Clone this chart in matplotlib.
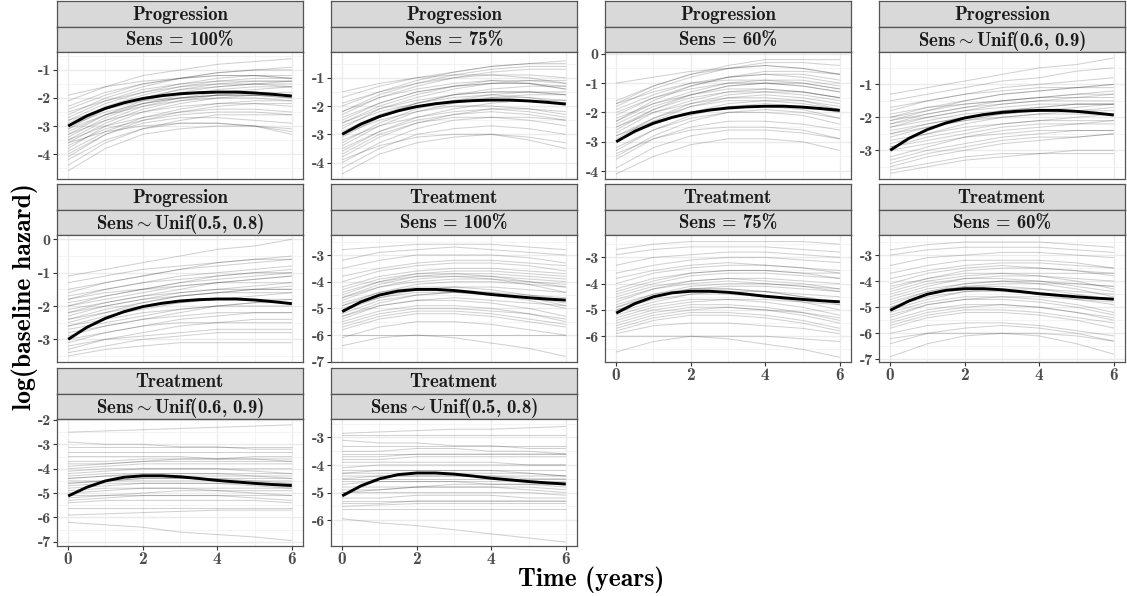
import matplotlib
matplotlib.use("Agg")
import matplotlib.pyplot as plt
from matplotlib.ticker import MultipleLocator, FuncFormatter, FixedLocator

plt.rcParams['axes.unicode_minus'] = False
plt.rcParams['mathtext.fontset'] = 'cm'
FONT = 'cmb10'

# ---------------- data ----------------
t_grid = [0, 1, 2, 3, 4, 5, 6]
t_true = [0, 0.5, 1, 1.5, 2, 2.5, 3, 3.5, 4, 4.5, 5, 5.5, 6]
prog_true = [-3.0, -2.64, -2.37, -2.17, -2.02, -1.92, -1.85, -1.81, -1.79, -1.79, -1.82, -1.87, -1.93]
treat_true = [-5.12, -4.76, -4.5, -4.35, -4.29, -4.29, -4.33, -4.4, -4.48, -4.54, -4.6, -4.65, -4.69]

outcomes = ["Progression"] * 5 + ["Treatment"] * 5
sens_labels = ["Sens = 100%", "Sens = 75%", "Sens = 60%",
               r"Sens$\sim$Unif(0.6, 0.9)", r"Sens$\sim$Unif(0.5, 0.8)"] * 2

prog_100 = [
    [-4.6, -3.8, -3.3, -3.1, -3.0, -3.0, -3.1], [-4.4, -3.6, -3.1, -2.8, -2.6, -2.6, -2.6],
    [-4.2, -3.5, -3.1, -2.9, -2.9, -3.0, -3.2], [-4.1, -3.3, -2.8, -2.5, -2.3, -2.2, -2.2],
    [-3.9, -3.2, -2.7, -2.4, -2.2, -2.1, -2.1], [-3.8, -3.0, -2.5, -2.2, -2.0, -1.9, -1.9],
    [-3.7, -3.1, -2.8, -2.6, -2.5, -2.5, -2.6], [-3.6, -2.9, -2.4, -2.1, -1.9, -1.8, -1.8],
    [-3.5, -2.8, -2.3, -2.0, -1.8, -1.7, -1.6], [-3.5, -3.0, -2.7, -2.5, -2.4, -2.4, -2.5],
    [-3.4, -2.7, -2.2, -1.9, -1.7, -1.6, -1.6], [-3.3, -2.6, -2.1, -1.8, -1.6, -1.5, -1.4],
    [-3.3, -2.8, -2.5, -2.3, -2.2, -2.2, -2.3], [-3.2, -2.6, -2.2, -2.0, -1.9, -1.9, -2.0],
    [-3.1, -2.4, -2.0, -1.7, -1.5, -1.4, -1.4], [-3.1, -2.6, -2.3, -2.1, -2.0, -2.0, -2.1],
    [-3.0, -2.4, -2.0, -1.7, -1.6, -1.5, -1.5], [-3.0, -2.5, -2.2, -2.0, -1.9, -1.9, -1.9],
    [-2.9, -2.3, -1.9, -1.6, -1.4, -1.3, -1.3], [-2.8, -2.2, -1.8, -1.5, -1.3, -1.2, -1.2],
    [-2.8, -2.4, -2.1, -2.0, -1.9, -1.9, -2.0], [-2.7, -2.1, -1.7, -1.5, -1.4, -1.4, -1.4],
    [-2.6, -2.0, -1.6, -1.3, -1.1, -1.0, -1.0], [-2.5, -2.1, -1.8, -1.6, -1.5, -1.5, -1.6],
    [-2.4, -1.9, -1.5, -1.3, -1.1, -1.0, -0.9], [-2.3, -1.8, -1.5, -1.3, -1.2, -1.2, -1.3],
    [-2.1, -1.6, -1.2, -1.0, -0.8, -0.7, -0.6], [-1.9, -1.6, -1.4, -1.3, -1.2, -1.2, -1.3],
    [-3.6, -3.2, -3.0, -2.9, -2.9, -3.0, -3.3], [-4.0, -3.3, -2.9, -2.7, -2.7, -2.8, -2.9],
]
prog_75 = [
    [-4.4, -3.7, -3.3, -3.1, -3.0, -3.1, -3.3], [-4.2, -3.5, -3.0, -2.8, -2.7, -2.8, -3.0],
    [-4.0, -3.3, -2.8, -2.5, -2.4, -2.4, -2.5], [-3.9, -3.4, -3.1, -3.0, -3.0, -3.2, -3.5],
    [-3.8, -3.1, -2.6, -2.3, -2.1, -2.1, -2.2], [-3.6, -2.9, -2.4, -2.1, -1.9, -1.8, -1.8],
    [-3.5, -2.9, -2.5, -2.3, -2.2, -2.3, -2.5], [-3.4, -2.7, -2.2, -1.9, -1.7, -1.6, -1.6],
    [-3.3, -2.6, -2.1, -1.8, -1.6, -1.5, -1.5], [-3.2, -2.7, -2.4, -2.2, -2.1, -2.2, -2.4],
    [-3.1, -2.4, -1.9, -1.6, -1.4, -1.3, -1.3], [-3.0, -2.4, -2.0, -1.8, -1.7, -1.7, -1.8],
    [-2.9, -2.3, -1.9, -1.6, -1.5, -1.5, -1.6], [-2.8, -2.1, -1.7, -1.4, -1.2, -1.1, -1.1],
    [-2.7, -2.2, -1.9, -1.7, -1.6, -1.7, -1.9], [-2.6, -2.0, -1.6, -1.3, -1.2, -1.2, -1.3],
    [-2.5, -1.9, -1.5, -1.3, -1.1, -1.1, -1.2], [-2.4, -1.9, -1.5, -1.3, -1.2, -1.2, -1.4],
    [-2.3, -1.7, -1.3, -1.0, -0.8, -0.7, -0.7], [-2.2, -1.7, -1.4, -1.2, -1.1, -1.2, -1.4],
    [-2.0, -1.5, -1.1, -0.8, -0.6, -0.5, -0.5], [-1.9, -1.5, -1.2, -1.0, -0.9, -0.9, -1.0],
    [-1.7, -1.3, -1.0, -0.8, -0.6, -0.5, -0.4], [-1.5, -1.2, -1.0, -0.9, -0.9, -1.0, -1.2],
    [-3.7, -3.0, -2.6, -2.4, -2.4, -2.5, -2.7], [-3.0, -2.5, -2.2, -2.0, -2.0, -2.1, -2.3],
    [-2.6, -2.1, -1.8, -1.6, -1.5, -1.5, -1.6], [-2.2, -1.6, -1.2, -0.9, -0.7, -0.6, -0.6],
]
prog_60 = [
    [-4.1, -3.5, -3.1, -2.9, -2.9, -3.0, -3.3], [-3.9, -3.2, -2.8, -2.6, -2.6, -2.7, -2.9],
    [-3.6, -2.9, -2.5, -2.3, -2.3, -2.4, -2.6], [-3.5, -2.8, -2.3, -2.0, -1.9, -2.0, -2.2],
    [-3.3, -2.6, -2.1, -1.8, -1.7, -1.8, -2.0], [-3.2, -2.6, -2.2, -2.0, -2.0, -2.1, -2.4],
    [-3.0, -2.3, -1.8, -1.5, -1.4, -1.5, -1.7], [-2.9, -2.2, -1.7, -1.4, -1.3, -1.3, -1.5],
    [-2.8, -2.2, -1.8, -1.6, -1.6, -1.7, -1.9], [-2.7, -2.0, -1.6, -1.3, -1.2, -1.3, -1.5],
    [-2.6, -1.9, -1.4, -1.1, -1.0, -1.0, -1.2], [-2.5, -1.9, -1.5, -1.3, -1.3, -1.4, -1.6],
    [-2.4, -1.8, -1.4, -1.1, -1.0, -1.1, -1.3], [-2.3, -1.7, -1.3, -1.0, -0.9, -0.9, -1.1],
    [-2.2, -1.7, -1.4, -1.2, -1.2, -1.3, -1.5], [-2.1, -1.5, -1.1, -0.8, -0.7, -0.7, -0.9],
    [-2.0, -1.5, -1.2, -1.0, -1.0, -1.1, -1.3], [-1.9, -1.4, -1.0, -0.8, -0.7, -0.8, -1.0],
    [-1.8, -1.2, -0.8, -0.5, -0.3, -0.3, -0.4], [-1.7, -1.3, -1.0, -0.9, -0.9, -1.0, -1.2],
    [-1.6, -1.1, -0.7, -0.5, -0.4, -0.5, -0.7], [-1.0, -0.8, -0.6, -0.5, -0.4, -0.5, -0.7],
    [-3.4, -2.9, -2.6, -2.5, -2.5, -2.6, -2.9], [-2.8, -2.3, -2.0, -1.8, -1.8, -1.9, -2.2],
    [-2.3, -1.6, -1.1, -0.8, -0.6, -0.6, -0.7], [-1.7, -1.1, -0.7, -0.4, -0.2, -0.2, -0.2],
    [-3.0, -2.4, -2.0, -1.7, -1.6, -1.6, -1.8], [-2.5, -2.0, -1.7, -1.5, -1.5, -1.6, -1.9],
]
prog_u69 = [
    [-3.7, -3.5, -3.3, -3.2, -3.1, -3.0, -3.0], [-3.6, -3.4, -3.2, -3.1, -3.1, -3.1, -3.1],
    [-3.5, -3.2, -3.0, -2.8, -2.7, -2.6, -2.5], [-3.3, -3.0, -2.8, -2.6, -2.5, -2.4, -2.4],
    [-3.2, -2.9, -2.6, -2.4, -2.3, -2.2, -2.1], [-3.0, -2.8, -2.6, -2.5, -2.4, -2.4, -2.4],
    [-2.9, -2.6, -2.4, -2.2, -2.1, -2.0, -1.9], [-2.8, -2.5, -2.2, -2.0, -1.9, -1.8, -1.7],
    [-2.7, -2.5, -2.3, -2.2, -2.1, -2.1, -2.1], [-2.6, -2.3, -2.1, -1.9, -1.8, -1.7, -1.6],
    [-2.5, -2.2, -2.0, -1.8, -1.7, -1.6, -1.6], [-2.4, -2.2, -2.0, -1.9, -1.8, -1.8, -1.8],
    [-2.3, -2.0, -1.8, -1.6, -1.5, -1.4, -1.3], [-2.3, -2.1, -1.9, -1.8, -1.7, -1.6, -1.6],
    [-2.2, -1.9, -1.7, -1.5, -1.4, -1.3, -1.2], [-2.1, -1.9, -1.7, -1.6, -1.5, -1.5, -1.5],
    [-2.0, -1.8, -1.6, -1.5, -1.4, -1.3, -1.3], [-2.0, -1.7, -1.5, -1.3, -1.2, -1.1, -1.0],
    [-1.9, -1.7, -1.6, -1.5, -1.4, -1.4, -1.4], [-1.8, -1.5, -1.3, -1.1, -1.0, -0.9, -0.8],
    [-1.7, -1.5, -1.3, -1.2, -1.1, -1.1, -1.1], [-1.5, -1.3, -1.1, -0.9, -0.8, -0.6, -0.5],
    [-1.3, -1.1, -0.9, -0.7, -0.5, -0.4, -0.2], [-2.9, -2.7, -2.5, -2.3, -2.2, -2.2, -2.2],
    [-2.5, -2.3, -2.1, -2.0, -1.9, -1.9, -1.9], [-2.2, -2.0, -1.8, -1.7, -1.6, -1.6, -1.6],
    [-3.4, -3.1, -2.9, -2.7, -2.6, -2.6, -2.5], [-2.1, -1.8, -1.5, -1.3, -1.2, -1.1, -1.0],
]
prog_u58 = [
    [-3.5, -3.3, -3.2, -3.1, -3.1, -3.1, -3.1], [-3.4, -3.2, -3.0, -2.9, -2.8, -2.8, -2.8],
    [-3.3, -3.0, -2.8, -2.6, -2.5, -2.4, -2.4], [-3.1, -2.8, -2.6, -2.4, -2.3, -2.2, -2.2],
    [-3.0, -2.8, -2.6, -2.5, -2.5, -2.5, -2.5], [-2.9, -2.6, -2.4, -2.2, -2.0, -1.9, -1.8],
    [-2.7, -2.5, -2.3, -2.1, -2.0, -2.0, -2.0], [-2.6, -2.3, -2.1, -1.9, -1.8, -1.7, -1.6],
    [-2.5, -2.2, -1.9, -1.7, -1.6, -1.5, -1.4], [-2.4, -2.2, -2.0, -1.9, -1.8, -1.8, -1.8],
    [-2.3, -2.0, -1.8, -1.6, -1.5, -1.4, -1.3], [-2.2, -1.9, -1.7, -1.5, -1.3, -1.2, -1.1],
    [-2.1, -1.9, -1.7, -1.6, -1.5, -1.5, -1.5], [-2.0, -1.8, -1.6, -1.4, -1.3, -1.2, -1.1],
    [-1.9, -1.7, -1.5, -1.3, -1.2, -1.1, -1.0], [-1.8, -1.6, -1.5, -1.4, -1.3, -1.3, -1.3],
    [-1.8, -1.5, -1.3, -1.1, -1.0, -0.9, -0.8], [-1.7, -1.5, -1.3, -1.2, -1.1, -1.0, -1.0],
    [-1.5, -1.3, -1.1, -0.9, -0.7, -0.6, -0.5], [-1.3, -1.1, -0.9, -0.8, -0.7, -0.6, -0.6],
    [-1.1, -0.9, -0.7, -0.5, -0.3, -0.2, 0.0], [-2.8, -2.6, -2.4, -2.3, -2.2, -2.2, -2.2],
    [-2.4, -2.1, -1.9, -1.7, -1.6, -1.5, -1.5], [-2.0, -1.7, -1.5, -1.3, -1.1, -1.0, -0.9],
    [-3.2, -3.0, -2.9, -2.8, -2.7, -2.7, -2.7], [-2.2, -2.0, -1.8, -1.7, -1.6, -1.6, -1.6],
    [-1.6, -1.3, -1.1, -0.9, -0.8, -0.7, -0.6], [-2.6, -2.4, -2.2, -2.1, -2.0, -1.9, -1.9],
]
treat_100 = [
    [-6.4, -6.1, -6.0, -6.1, -6.3, -6.5, -6.8], [-6.0, -6.0, -6.0, -6.0, -6.0, -6.0, -6.0],
    [-6.1, -5.7, -5.5, -5.5, -5.6, -5.8, -6.0], [-5.8, -5.4, -5.2, -5.2, -5.3, -5.5, -5.7],
    [-5.6, -5.2, -5.0, -5.0, -5.1, -5.2, -5.4], [-5.5, -5.1, -4.9, -4.9, -5.0, -5.2, -5.5],
    [-5.4, -4.9, -4.7, -4.6, -4.7, -4.8, -4.9], [-5.3, -4.9, -4.7, -4.7, -4.8, -5.0, -5.3],
    [-5.2, -4.7, -4.5, -4.4, -4.5, -4.6, -4.8], [-5.1, -4.6, -4.3, -4.2, -4.2, -4.3, -4.4],
    [-5.0, -4.6, -4.4, -4.4, -4.5, -4.7, -5.0], [-4.9, -4.4, -4.1, -4.0, -4.0, -4.1, -4.2],
    [-4.8, -4.4, -4.2, -4.2, -4.3, -4.5, -4.7], [-4.7, -4.2, -3.9, -3.8, -3.8, -3.9, -4.0],
    [-4.6, -4.2, -4.0, -3.9, -3.9, -4.0, -4.1], [-4.5, -4.0, -3.7, -3.6, -3.6, -3.7, -3.8],
    [-4.4, -4.0, -3.8, -3.8, -3.9, -4.1, -4.4], [-4.2, -3.8, -3.6, -3.5, -3.5, -3.6, -3.7],
    [-4.0, -3.6, -3.4, -3.3, -3.3, -3.4, -3.6], [-3.8, -3.5, -3.3, -3.2, -3.2, -3.3, -3.4],
    [-3.5, -3.2, -3.0, -3.0, -3.0, -3.1, -3.3], [-3.2, -2.9, -2.8, -2.7, -2.8, -2.9, -3.0],
    [-2.8, -2.7, -2.6, -2.6, -2.6, -2.7, -2.8], [-4.9, -4.5, -4.3, -4.3, -4.4, -4.6, -4.9],
    [-5.3, -4.8, -4.5, -4.4, -4.4, -4.5, -4.6], [-4.3, -3.9, -3.7, -3.7, -3.8, -4.0, -4.2],
    [-5.7, -5.3, -5.1, -5.1, -5.2, -5.4, -5.6], [-4.6, -4.1, -3.8, -3.7, -3.7, -3.8, -3.9],
]
treat_75 = [
    [-6.6, -6.2, -6.0, -6.1, -6.3, -6.5, -6.8], [-6.0, -6.0, -6.0, -6.0, -6.0, -6.1, -6.2],
    [-5.9, -5.6, -5.5, -5.5, -5.6, -5.7, -5.9], [-5.7, -5.3, -5.1, -5.1, -5.2, -5.4, -5.7],
    [-5.6, -5.2, -5.0, -4.9, -5.0, -5.1, -5.3], [-5.4, -5.0, -4.8, -4.8, -4.9, -5.1, -5.4],
    [-5.3, -4.9, -4.7, -4.6, -4.6, -4.7, -4.8], [-5.2, -4.8, -4.6, -4.6, -4.7, -4.9, -5.2],
    [-5.1, -4.7, -4.4, -4.3, -4.3, -4.4, -4.5], [-5.0, -4.6, -4.4, -4.4, -4.5, -4.7, -5.0],
    [-4.9, -4.4, -4.1, -4.0, -4.0, -4.1, -4.2], [-4.8, -4.4, -4.2, -4.2, -4.3, -4.5, -4.8],
    [-4.7, -4.2, -3.9, -3.8, -3.8, -3.9, -4.0], [-4.6, -4.2, -4.0, -3.9, -4.0, -4.1, -4.3],
    [-4.4, -4.0, -3.7, -3.6, -3.6, -3.7, -3.8], [-4.2, -3.8, -3.6, -3.5, -3.5, -3.6, -3.8],
    [-4.0, -3.6, -3.4, -3.3, -3.3, -3.4, -3.5], [-3.8, -3.5, -3.3, -3.2, -3.3, -3.4, -3.6],
    [-3.6, -3.3, -3.1, -3.0, -3.0, -3.1, -3.2], [-3.3, -3.0, -2.9, -2.8, -2.8, -2.9, -3.0],
    [-2.9, -2.7, -2.6, -2.6, -2.6, -2.7, -2.8], [-2.7, -2.5, -2.4, -2.4, -2.4, -2.4, -2.5],
    [-5.5, -5.1, -4.9, -4.9, -5.0, -5.2, -5.5], [-4.9, -4.5, -4.2, -4.2, -4.3, -4.5, -4.7],
    [-5.0, -4.5, -4.2, -4.1, -4.1, -4.2, -4.3], [-4.5, -4.1, -3.9, -3.8, -3.9, -4.0, -4.2],
    [-5.8, -5.4, -5.2, -5.2, -5.3, -5.5, -5.8], [-4.3, -3.9, -3.6, -3.5, -3.5, -3.6, -3.6],
]
treat_60 = [
    [-6.9, -6.4, -6.1, -6.0, -6.1, -6.4, -6.8], [-6.2, -6.0, -6.0, -6.0, -6.0, -6.1, -6.3],
    [-6.0, -5.7, -5.6, -5.6, -5.7, -5.9, -6.1], [-5.8, -5.4, -5.2, -5.2, -5.3, -5.5, -5.8],
    [-5.6, -5.2, -5.0, -4.9, -5.0, -5.2, -5.4], [-5.5, -5.1, -4.9, -4.9, -5.0, -5.2, -5.5],
    [-5.4, -4.9, -4.7, -4.6, -4.6, -4.7, -4.8], [-5.2, -4.8, -4.6, -4.6, -4.7, -4.9, -5.2],
    [-5.1, -4.7, -4.4, -4.3, -4.3, -4.4, -4.5], [-5.0, -4.6, -4.4, -4.4, -4.5, -4.7, -4.9],
    [-4.9, -4.4, -4.1, -4.0, -4.0, -4.1, -4.2], [-4.8, -4.4, -4.2, -4.2, -4.3, -4.5, -4.7],
    [-4.6, -4.2, -3.9, -3.8, -3.8, -3.9, -4.0], [-4.5, -4.1, -3.9, -3.9, -4.0, -4.2, -4.4],
    [-4.3, -3.9, -3.6, -3.5, -3.5, -3.6, -3.7], [-4.1, -3.7, -3.5, -3.4, -3.5, -3.6, -3.8],
    [-3.9, -3.6, -3.4, -3.3, -3.3, -3.4, -3.5], [-3.7, -3.4, -3.2, -3.2, -3.2, -3.3, -3.5],
    [-3.4, -3.1, -3.0, -2.9, -2.9, -3.0, -3.1], [-3.0, -2.8, -2.7, -2.7, -2.7, -2.8, -2.9],
    [-2.8, -2.6, -2.5, -2.5, -2.5, -2.6, -2.7], [-5.3, -4.9, -4.7, -4.7, -4.8, -5.0, -5.3],
    [-4.7, -4.3, -4.1, -4.0, -4.1, -4.3, -4.6], [-5.0, -4.5, -4.2, -4.1, -4.1, -4.1, -4.2],
    [-5.7, -5.3, -5.1, -5.1, -5.2, -5.4, -5.6], [-4.4, -4.0, -3.8, -3.7, -3.7, -3.7, -3.7],
    [-6.4, -6.0, -5.8, -5.7, -5.8, -6.0, -6.3], [-4.2, -3.9, -3.7, -3.7, -3.8, -4.0, -4.3],
]
treat_u69 = [
    [-6.2, -6.3, -6.4, -6.6, -6.7, -6.8, -6.95], [-5.9, -5.85, -5.8, -5.75, -5.7, -5.7, -5.7],
    [-5.6, -5.6, -5.6, -5.6, -5.6, -5.6, -5.6], [-5.4, -5.3, -5.3, -5.3, -5.3, -5.3, -5.4],
    [-5.3, -5.2, -5.1, -5.1, -5.1, -5.1, -5.1], [-5.1, -5.1, -5.1, -5.1, -5.1, -5.2, -5.3],
    [-5.0, -4.9, -4.8, -4.8, -4.8, -4.8, -4.8], [-4.9, -4.8, -4.8, -4.8, -4.9, -5.0, -5.1],
    [-4.8, -4.7, -4.6, -4.6, -4.6, -4.6, -4.6], [-4.7, -4.6, -4.6, -4.6, -4.6, -4.7, -4.8],
    [-4.6, -4.5, -4.4, -4.4, -4.4, -4.4, -4.4], [-4.5, -4.5, -4.4, -4.4, -4.4, -4.5, -4.5],
    [-4.4, -4.3, -4.2, -4.2, -4.2, -4.2, -4.2], [-4.3, -4.2, -4.2, -4.2, -4.2, -4.3, -4.4],
    [-4.2, -4.1, -4.0, -4.0, -4.0, -4.0, -4.0], [-4.1, -4.0, -4.0, -4.0, -4.0, -4.1, -4.2],
    [-4.0, -3.9, -3.8, -3.8, -3.8, -3.8, -3.8], [-3.8, -3.8, -3.7, -3.7, -3.7, -3.7, -3.7],
    [-3.7, -3.7, -3.6, -3.6, -3.6, -3.6, -3.6], [-3.5, -3.5, -3.5, -3.5, -3.6, -3.6, -3.7],
    [-3.3, -3.3, -3.3, -3.3, -3.3, -3.3, -3.3], [-3.1, -3.1, -3.1, -3.1, -3.1, -3.1, -3.1],
    [-2.9, -3.0, -3.0, -3.1, -3.1, -3.2, -3.2], [-2.5, -2.45, -2.4, -2.35, -2.3, -2.25, -2.2],
    [-4.6, -4.5, -4.5, -4.5, -4.5, -4.5, -4.6], [-5.2, -5.1, -5.0, -4.9, -4.9, -4.9, -4.9],
    [-4.4, -4.3, -4.3, -4.3, -4.3, -4.3, -4.3], [-3.9, -3.8, -3.7, -3.6, -3.6, -3.5, -3.5],
]
treat_u58 = [
    [-5.95, -6.1, -6.2, -6.35, -6.5, -6.65, -6.8], [-5.6, -5.6, -5.6, -5.6, -5.6, -5.6, -5.6],
    [-5.5, -5.45, -5.4, -5.4, -5.4, -5.4, -5.4], [-5.3, -5.3, -5.3, -5.3, -5.3, -5.3, -5.3],
    [-5.2, -5.2, -5.1, -5.1, -5.1, -5.2, -5.2], [-5.0, -5.0, -5.0, -5.0, -5.0, -5.0, -5.1],
    [-4.9, -4.9, -4.8, -4.8, -4.8, -4.8, -4.9], [-4.8, -4.8, -4.8, -4.8, -4.8, -4.9, -5.0],
    [-4.7, -4.6, -4.6, -4.6, -4.6, -4.6, -4.6], [-4.6, -4.6, -4.6, -4.6, -4.7, -4.7, -4.8],
    [-4.5, -4.4, -4.4, -4.4, -4.4, -4.4, -4.4], [-4.4, -4.4, -4.4, -4.4, -4.4, -4.5, -4.5],
    [-4.3, -4.2, -4.2, -4.2, -4.2, -4.2, -4.2], [-4.2, -4.2, -4.2, -4.2, -4.2, -4.3, -4.4],
    [-4.1, -4.0, -4.0, -4.0, -4.0, -4.0, -4.0], [-3.9, -3.9, -3.9, -3.9, -3.9, -4.0, -4.0],
    [-3.8, -3.8, -3.7, -3.7, -3.7, -3.7, -3.7], [-3.6, -3.6, -3.6, -3.6, -3.6, -3.6, -3.6],
    [-3.5, -3.5, -3.4, -3.4, -3.5, -3.5, -3.6], [-3.3, -3.3, -3.3, -3.3, -3.3, -3.3, -3.3],
    [-3.1, -3.2, -3.2, -3.3, -3.3, -3.4, -3.4], [-2.9, -2.9, -2.9, -2.9, -2.9, -2.9, -2.9],
    [-2.85, -2.8, -2.75, -2.7, -2.7, -2.65, -2.6], [-4.5, -4.5, -4.5, -4.5, -4.5, -4.5, -4.5],
    [-5.0, -4.9, -4.8, -4.7, -4.7, -4.7, -4.7], [-4.3, -4.3, -4.3, -4.3, -4.3, -4.3, -4.4],
    [-3.7, -3.7, -3.6, -3.6, -3.6, -3.6, -3.6], [-5.4, -5.4, -5.3, -5.3, -5.3, -5.3, -5.3],
]

grey_sets = [prog_100, prog_75, prog_60, prog_u69, prog_u58,
             treat_100, treat_75, treat_60, treat_u69, treat_u58]
true_sets = [prog_true] * 5 + [treat_true] * 5
y_limits = [(-4.89, -0.36), (-4.58, -0.09), (-4.27, 0.06), (-3.87, -0.02), (-3.68, 0.13),
            (-7.01, -2.25), (-6.98, -2.15), (-7.10, -2.23), (-7.17, -1.96), (-6.94, -2.33)]
x_ticks = [0, 2, 4, 6]

# ---------------- layout (pixels) ----------------
W, H = 1127, 596
fig = plt.figure(figsize=(W / 100, H / 100), dpi=100)
fig.patch.set_facecolor('white')

col_x = [57, 331, 605, 879]
col_w = 246
row_top = [1, 184, 368]     # top of first strip
strip_h = 25.5
panel_h = 127
bottom_cols = {0: 2, 1: 2, 2: 1, 3: 1}   # row index that carries x-axis labels


def px_axes(x0, y0, w, h):
    return fig.add_axes([x0 / W, 1 - (y0 + h) / H, w / W, h / H])


BORDER = '#555555'
for i in range(10):
    r, c = divmod(i, 4)
    x0 = col_x[c]
    ytop = row_top[r]
    # strips
    for k, label in enumerate([outcomes[i], sens_labels[i]]):
        sax = px_axes(x0, ytop + k * strip_h, col_w, strip_h)
        sax.set_facecolor('#D9D9D9')
        sax.set_xticks([]); sax.set_yticks([])
        for s in sax.spines.values():
            s.set_color(BORDER); s.set_linewidth(0.9)
        sax.text(0.5, 0.45, label, ha='center', va='center', fontsize=13.5,
                 family=FONT, color='#1A1A1A', transform=sax.transAxes)
    # panel
    ax = px_axes(x0, ytop + 2 * strip_h, col_w, panel_h)
    for line in grey_sets[i]:
        ax.plot(t_grid, line, color='black', alpha=0.18, lw=0.75, solid_capstyle='butt')
    ax.plot(t_true, true_sets[i], color='black', lw=2.1, solid_capstyle='butt')
    ax.set_xlim(-0.3, 6.3)
    ax.set_ylim(*y_limits[i])
    ax.xaxis.set_major_locator(FixedLocator(x_ticks))
    ax.xaxis.set_minor_locator(FixedLocator([-1, 1, 3, 5, 7]))
    ax.yaxis.set_major_locator(MultipleLocator(1))
    ax.yaxis.set_minor_locator(MultipleLocator(0.5))
    ax.grid(True, which='major', color='#EBEBEB', lw=1.0)
    ax.grid(True, which='minor', color='#F2F2F2', lw=0.6)
    ax.set_axisbelow(True)
    for s in ax.spines.values():
        s.set_color(BORDER); s.set_linewidth(0.9)
    ax.yaxis.set_major_formatter(FuncFormatter(lambda v, p: f"{int(round(v))}"))
    ax.tick_params(axis='both', which='major', length=3, width=0.8, color='#333333',
                   labelsize=11.5, labelcolor='#4D4D4D', pad=1.5)
    ax.tick_params(axis='both', which='minor', length=0)
    if bottom_cols[c] == r:
        ax.set_xticks(x_ticks)
        ax.set_xticklabels([str(v) for v in x_ticks], family=FONT)
        ax.tick_params(axis='x', labelsize=12.5)
    else:
        ax.tick_params(axis='x', which='both', length=0, labelbottom=False)
    for lab in ax.get_yticklabels():
        lab.set_family(FONT)

fig.text(591 / W, 1 - 580 / H, "Time (years)", ha='center', va='center',
         fontsize=18.5, family=FONT, color='black')
fig.text(25 / W, 1 - 297 / H, "log(baseline hazard)", ha='center', va='center',
         rotation=90, fontsize=18.5, family=FONT, color='black')

fig.savefig("out.png", dpi=100, facecolor='white')
